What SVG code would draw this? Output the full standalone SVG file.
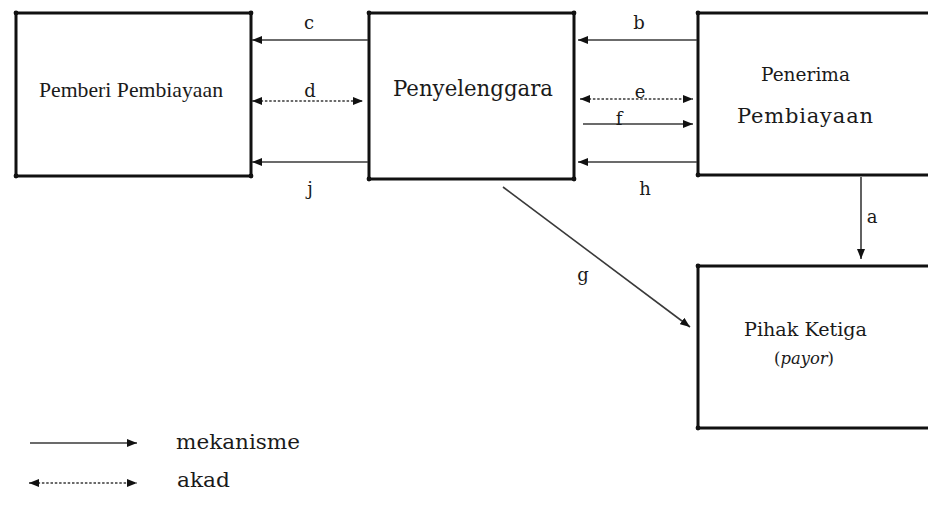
<svg xmlns="http://www.w3.org/2000/svg" width="928" height="532" viewBox="0 0 928 532">
  <style>
    .box { fill: #ffffff; stroke: #111111; stroke-width: 3; }
    .dot { fill: #111111; }
    .ln { stroke: #3a3a3a; stroke-width: 1.6; fill: none; }
    .dash { stroke-dasharray: 2.5 1.8; }
    .t { font-family: "DejaVu Serif", "Liberation Serif", serif; fill: #1a1a1a; }
    .tn { font-family: "Liberation Serif", "DejaVu Serif", serif; fill: #1a1a1a; }
    .lbl { font-size: 18px; text-anchor: middle; }
  </style>
  <defs>
    <marker id="ah" viewBox="0 0 10 8" refX="10" refY="4" markerWidth="10" markerHeight="8" markerUnits="userSpaceOnUse" orient="auto-start-reverse">
      <path d="M0,0 L10,4 L0,8 Z" fill="#111111"/>
    </marker>
  </defs>

  <!-- nodes -->
  <g id="pemberi">
    <rect class="box" x="16" y="13" width="235" height="163"/>
    <circle class="dot" cx="16" cy="13" r="2.4"/><circle class="dot" cx="251" cy="13" r="2.4"/>
    <circle class="dot" cx="16" cy="176" r="2.4"/><circle class="dot" cx="251" cy="176" r="2.4"/>
    <text class="tn" x="39" y="97" font-size="22" textLength="184" lengthAdjust="spacingAndGlyphs">Pemberi Pembiayaan</text>
  </g>
  <g id="penyelenggara">
    <rect class="box" x="369" y="13" width="205" height="166"/>
    <circle class="dot" cx="369" cy="13" r="2.4"/><circle class="dot" cx="574" cy="13" r="2.4"/>
    <circle class="dot" cx="369" cy="179" r="2.4"/><circle class="dot" cx="574" cy="179" r="2.4"/>
    <text class="t" x="393" y="96" font-size="21.5" textLength="160" lengthAdjust="spacingAndGlyphs">Penyelenggara</text>
  </g>
  <g id="penerima">
    <rect class="box" x="698" y="13" width="240" height="162"/>
    <circle class="dot" cx="698" cy="13" r="2.4"/><circle class="dot" cx="698" cy="175" r="2.4"/>
    <text class="t" x="761" y="81" font-size="19" textLength="89" lengthAdjust="spacingAndGlyphs">Penerima</text>
    <text class="t" x="737" y="123" font-size="21" textLength="136" lengthAdjust="spacing">Pembiayaan</text>
  </g>
  <g id="pihak-ketiga">
    <rect class="box" x="698" y="266" width="240" height="162"/>
    <circle class="dot" cx="698" cy="266" r="2.4"/><circle class="dot" cx="698" cy="428" r="2.4"/>
    <text class="t" x="744" y="336" font-size="19" textLength="123" lengthAdjust="spacingAndGlyphs">Pihak Ketiga</text>
    <text class="t" x="774" y="364" font-size="16" textLength="60" lengthAdjust="spacingAndGlyphs">(<tspan font-style="italic">payor</tspan>)</text>
  </g>

  <!-- connectors -->
  <g id="connectors">
    <line class="ln" x1="368" y1="40" x2="252" y2="40" marker-end="url(#ah)"/>
    <line class="ln dash" x1="252" y1="101" x2="363" y2="101" marker-start="url(#ah)" marker-end="url(#ah)"/>
    <line class="ln" x1="368" y1="162" x2="252" y2="162" marker-end="url(#ah)"/>
    <line class="ln" x1="697" y1="40" x2="578" y2="40" marker-end="url(#ah)"/>
    <line class="ln dash" x1="580" y1="99" x2="693" y2="99" marker-start="url(#ah)" marker-end="url(#ah)"/>
    <line class="ln" x1="583" y1="124" x2="693" y2="124" marker-end="url(#ah)"/>
    <line class="ln" x1="697" y1="162" x2="578" y2="162" marker-end="url(#ah)"/>
    <line class="ln" x1="861" y1="177" x2="861" y2="259" marker-end="url(#ah)"/>
    <line class="ln" x1="503" y1="187" x2="690" y2="327" marker-end="url(#ah)"/>

    <text class="t lbl" x="309" y="29">c</text>
    <text class="t lbl" x="310" y="97">d</text>
    <text class="t lbl" x="310" y="195">j</text>
    <text class="t lbl" x="639" y="29">b</text>
    <text class="t lbl" x="640" y="98">e</text>
    <text class="t lbl" x="619" y="125">f</text>
    <text class="t lbl" x="645" y="195">h</text>
    <text class="t lbl" x="872" y="223" font-size="16">a</text>
    <text class="t lbl" x="583" y="281">g</text>
  </g>

  <!-- legend -->
  <g id="legend">
    <line class="ln" x1="30" y1="443" x2="137" y2="443" marker-end="url(#ah)"/>
    <text class="t" x="176" y="449" font-size="19.5" textLength="124" lengthAdjust="spacingAndGlyphs">mekanisme</text>
    <line class="ln dash" x1="29" y1="483" x2="137" y2="483" marker-start="url(#ah)" marker-end="url(#ah)"/>
    <text class="t" x="177" y="487" font-size="20" textLength="53" lengthAdjust="spacingAndGlyphs">akad</text>
  </g>
</svg>
